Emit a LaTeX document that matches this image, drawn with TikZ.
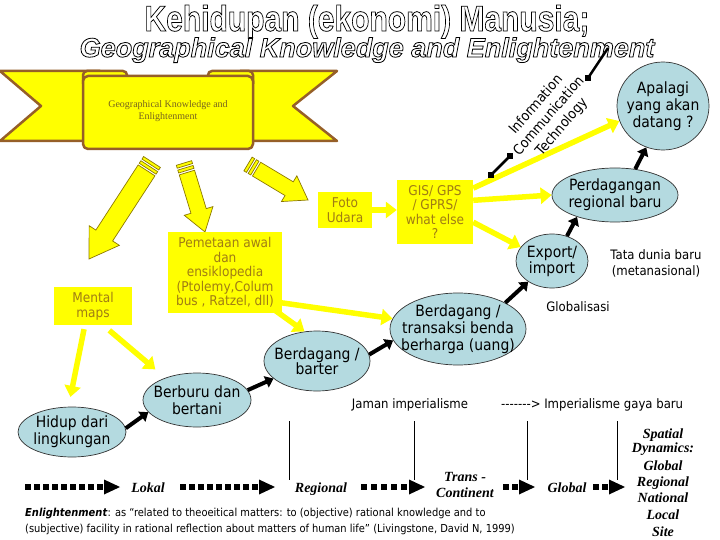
\documentclass[tikz,border=0pt]{standalone}
\usepackage{fontspec}
\usepackage{graphicx}
\usetikzlibrary{arrows.meta,calc,shapes.geometric}
\newfontfamily\tah[FakeStretch=0.9]{DejaVu Sans}
\newfontfamily\ars{Liberation Sans}
\newfontfamily\tms{Liberation Serif}
\definecolor{ylw}{RGB}{255,255,0}
\definecolor{brn}{RGB}{150,95,40}
\definecolor{gold}{RGB}{160,125,20}
\definecolor{blu}{RGB}{180,218,224}
\definecolor{oliv}{RGB}{140,120,0}
\definecolor{bantext}{RGB}{120,100,30}
\tikzset{
 ybox/.style={fill=ylw, text=gold, font=\tah\fontsize{13.5}{14.6}\selectfont, align=center, inner sep=0pt},
 bell/.style={ellipse, draw=black!80, line width=0.7pt, fill=blu, inner sep=0pt},
 etxt/.style={font=\tah\fontsize{15.5}{17}\selectfont, align=center, inner sep=0pt},
 yarr/.style={draw=ylw, line width=5.5pt, -{Triangle[length=11pt,width=16pt]}},
 barr/.style={draw=black, line width=4pt, -{Triangle[length=8pt,width=12pt]}},
 lbl/.style={font=\tah\fontsize{13}{16}\selectfont, inner sep=0pt, align=center},
 sp/.style={font=\tms\bfseries\itshape\fontsize{14}{16}\selectfont, inner sep=0pt, anchor=base},
 fatarr/.style={fill=ylw, draw=oliv, line width=0.7pt, line join=miter},
 ribbon/.style={fill=ylw, draw=brn, line width=2.5pt, line join=round},
 ttl/.style={inner sep=0pt, anchor=base, text=black},
}
% fat striped arrow: tail, tip, shaft half width, head half width, head length
\newcommand\fatarr[5]{%
 \coordinate (fa0) at ($(#1)!10pt!(#2)$);
 \coordinate (fah) at ($(#2)!#5!(#1)$);
 \coordinate (fs2) at ($(#1)!3pt!(#2)$);
 \coordinate (fs3) at ($(#1)!5pt!(#2)$);
 \coordinate (fs4) at ($(#1)!8pt!(#2)$);
 \path[fatarr] ($(#1)!#3!90:(#2)$) -- ($(fs2)!#3!90:(#2)$) -- ($(fs2)!#3!-90:(#2)$) -- ($(#1)!#3!-90:(#2)$) -- cycle;
 \path[fatarr] ($(fs3)!#3!90:(#2)$) -- ($(fs4)!#3!90:(#2)$) -- ($(fs4)!#3!-90:(#2)$) -- ($(fs3)!#3!-90:(#2)$) -- cycle;
 \path[fatarr] ($(fa0)!#3!90:(#2)$) -- ($(fah)!#3!-90:(#1)$) -- ($(fah)!#4!-90:(#1)$) -- (#2) -- ($(fah)!#4!90:(#1)$) -- ($(fah)!#3!90:(#1)$) -- ($(fa0)!#3!-90:(#2)$) -- cycle;
}
% dotted arrow: x0, count, pitch
\newcommand\dotarr[3]{%
 \foreach \i in {1,...,#2}{\fill ({#1+(\i-1)*#3},484) rectangle ++(6,6);}
 \fill ({#1+#2*#3-2},479.5) -- ++(16,7.5) -- ++(-16,7.5) -- cycle;
}
% outlined text via text rendering mode 1 (stroke only)
\newcommand\outlinetext[1]{\special{pdf:literal direct 1 Tr 0.8 w}#1\special{pdf:literal direct 0 Tr}}
\begin{document}
\begin{tikzpicture}[x=1pt,y=-1pt]
\useasboundingbox (0,0) rectangle (720,540);
\fill[white] (0,0) rectangle (720,540);

% title
\node[ttl, font=\ars\bfseries\fontsize{36}{40}\selectfont] (tl) at (367,31) {\scalebox{0.833}[1]{\outlinetext{Kehidupan (ekonomi) Manusia;}}};
\node[ttl, font=\ars\bfseries\itshape\fontsize{27}{30}\selectfont] (tm) at (367,57) {\outlinetext{Geographical Knowledge and Enlightenment}};

% ribbon
\path[ribbon] (0,71) -- (100,71) -- (100,141) -- (0,141) -- (41,106) -- cycle;
\path[ribbon] (240,71) -- (337,71) -- (293,106) -- (337,141) -- (240,141) -- cycle;
\path[ribbon, rounded corners=4pt] (83,84) -- (83,71) -- (127,71) -- (127,84);
\path[ribbon, rounded corners=4pt] (208,84) -- (208,71) -- (253,71) -- (253,84);
\path[ribbon, rounded corners=5pt] (83,76) rectangle (253,149);
\node[font=\tms\fontsize{10}{12}\selectfont, text=bantext, align=center, inner sep=0pt] (bantxt) at (168,111) {Geographical Knowledge and\\Enlightenment};

% fat arrows from ribbon
\coordinate (f1a) at (152,162); \coordinate (f1b) at (89,259);
\coordinate (f2a) at (184,163); \coordinate (f2b) at (205,232);
\coordinate (f3a) at (248,164); \coordinate (f3b) at (308,200);
\fatarr{f1a}{f1b}{10pt}{18pt}{28pt}
\fatarr{f2a}{f2b}{8pt}{15pt}{22pt}
\fatarr{f3a}{f3b}{8pt}{15pt}{22pt}

% yellow boxes
\node[ybox, minimum width=78pt, minimum height=38pt] (mental) at (93,306) {Mental\\maps};
\node[ybox, minimum width=114pt, minimum height=81pt] (pemetaan) at (225,272.5) {Pemetaan awal\\dan\\ensiklopedia\\(Ptolemy,Colum\\bus , Ratzel, dll)};
\node[ybox, minimum width=54pt, minimum height=36pt] (foto) at (345,210) {Foto\\Udara};
\node[ybox, minimum width=76pt, minimum height=64pt] (gis) at (435,212) {GIS/ GPS\\/ GPRS/\\what else\\?};

% ellipses
\node[bell, minimum width=92pt, minimum height=88pt] (apalagi) at (663,106) {};
\node[etxt] (apalagit) at (apalagi) {Apalagi\\yang akan\\datang ?};
\node[bell, minimum width=126pt, minimum height=54pt] (perd) at (615,195) {};
\node[etxt] (perdt) at (perd) {Perdagangan\\regional baru};
\node[bell, minimum width=72pt, minimum height=54pt] (export) at (552,261) {};
\node[etxt, font=\tah\fontsize{15.5}{16}\selectfont] (exportt) at (export) {Export/\\import};
\node[bell, minimum width=136pt, minimum height=72pt] (trans) at (458,329) {};
\node[etxt] (transt) at (trans) {Berdagang /\\transaksi benda\\berharga (uang)};
\node[bell, minimum width=106pt, minimum height=60pt] (barter) at (317,361) {};
\node[etxt, font=\tah\fontsize{15.5}{15.5}\selectfont] (bartert) at (barter) {Berdagang /\\barter};
\node[bell, minimum width=108pt, minimum height=54pt] (berburu) at (197,400) {};
\node[etxt] (berburut) at (berburu) {Berburu dan\\bertani};
\node[bell, minimum width=108pt, minimum height=50pt] (hidup) at (72,432) {};
\node[etxt] (hidupt) at (hidup) {Hidup dari\\lingkungan};

% yellow thin arrows
\draw[yarr] (foto.east) -- (gis.west |- foto.east);
\draw[yarr] (gis.17) -- (perd.west);
\draw[yarr] (gis.-15) -- (export.156);
\draw[yarr] (gis.32) -- (apalagi.199);
\draw[yarr, shorten <=-4pt] (pemetaan.-28) -- (trans.171);
\draw[yarr, shorten <=-5pt] (pemetaan.-37) -- (barter.113);
\draw[yarr, shorten <=4pt, shorten >=10pt] (mental.247) -- (hidup.98);
\draw[yarr, shorten <=8pt, shorten >=13pt] (mental.-62) -- (berburu.145);

% black arrows
\draw[barr] (hidup.4) -- (berburu.194);
\draw[barr] (berburu.11) -- (barter.202);
\draw[barr] (barter.7) -- (trans.190);
\draw[barr] (trans.29) -- (export.221);
\draw[barr] (export.59) -- (perd.210);
\draw[barr] (perd.52) -- (apalagi.248);

% ICT
\draw[line width=2.5pt] (491,175) -- (510,156);
\fill (491,175) +(-3,-3) rectangle +(3,3);
\fill (510,156) +(-3,-3) rectangle +(3,3);
\draw[line width=2.5pt] (588,78) -- (608,48);
\fill (588,78) +(-3,-3) rectangle +(3,3);
\node[font=\tah\fontsize{14}{17}\selectfont, align=center, inner sep=0pt, rotate=49] (ict) at (549,116) {Information\\Communication\\Technology};

% free labels
\node[lbl] (tata) at (656,263) {Tata dunia baru\\(metanasional)};
\node[lbl] (glob) at (578,307) {Globalisasi};
\node[lbl, anchor=base] (jaman) at (410,408) {Jaman imperialisme};
\node[lbl, anchor=base west] (imp) at (501,408) {-{}-{}-{}-{}-{}-{}-> Imperialisme gaya baru};

% vertical lines
\foreach \x in {289,414,527,617} \draw[line width=0.8pt] (\x,421) -- (\x,480);

% dotted arrows
\dotarr{25}{9}{9}
\dotarr{180}{9}{9}
\dotarr{361}{5}{10}
\dotarr{503}{2}{9}
\dotarr{593}{2}{9}

\node[sp] (lokal) at (148,492) {Lokal};
\node[sp] (regional) at (321,492) {Regional};
\node[sp] (transa) at (465,481) {Trans -};
\node[sp] (transb) at (465,497) {Continent};
\node[sp] (global) at (567,492) {Global};
\node[sp] (s1) at (663,438) {Spatial};
\node[sp] (s2) at (663,452) {Dynamics:};
\node[sp] (s3) at (663,470) {Global};
\node[sp] (s4) at (663,486) {Regional};
\node[sp] (s5) at (663,502) {National};
\node[sp] (s6) at (663,519) {Local};
\node[sp] (s7) at (663,536) {Site};

% bottom text
\node[font=\tah\fontsize{11}{13}\selectfont, anchor=base west, inner sep=0pt] (en1) at (25,516) {\textbf{\textit{Enlightenment}}: as “related to theoeitical matters: to (objective) rational knowledge and to};
\node[font=\tah\fontsize{11}{13}\selectfont, anchor=base west, inner sep=0pt] (en2) at (25,532) {(subjective) facility in rational reflection about matters of human life” (Livingstone, David N, 1999)};
\end{tikzpicture}
\end{document}
